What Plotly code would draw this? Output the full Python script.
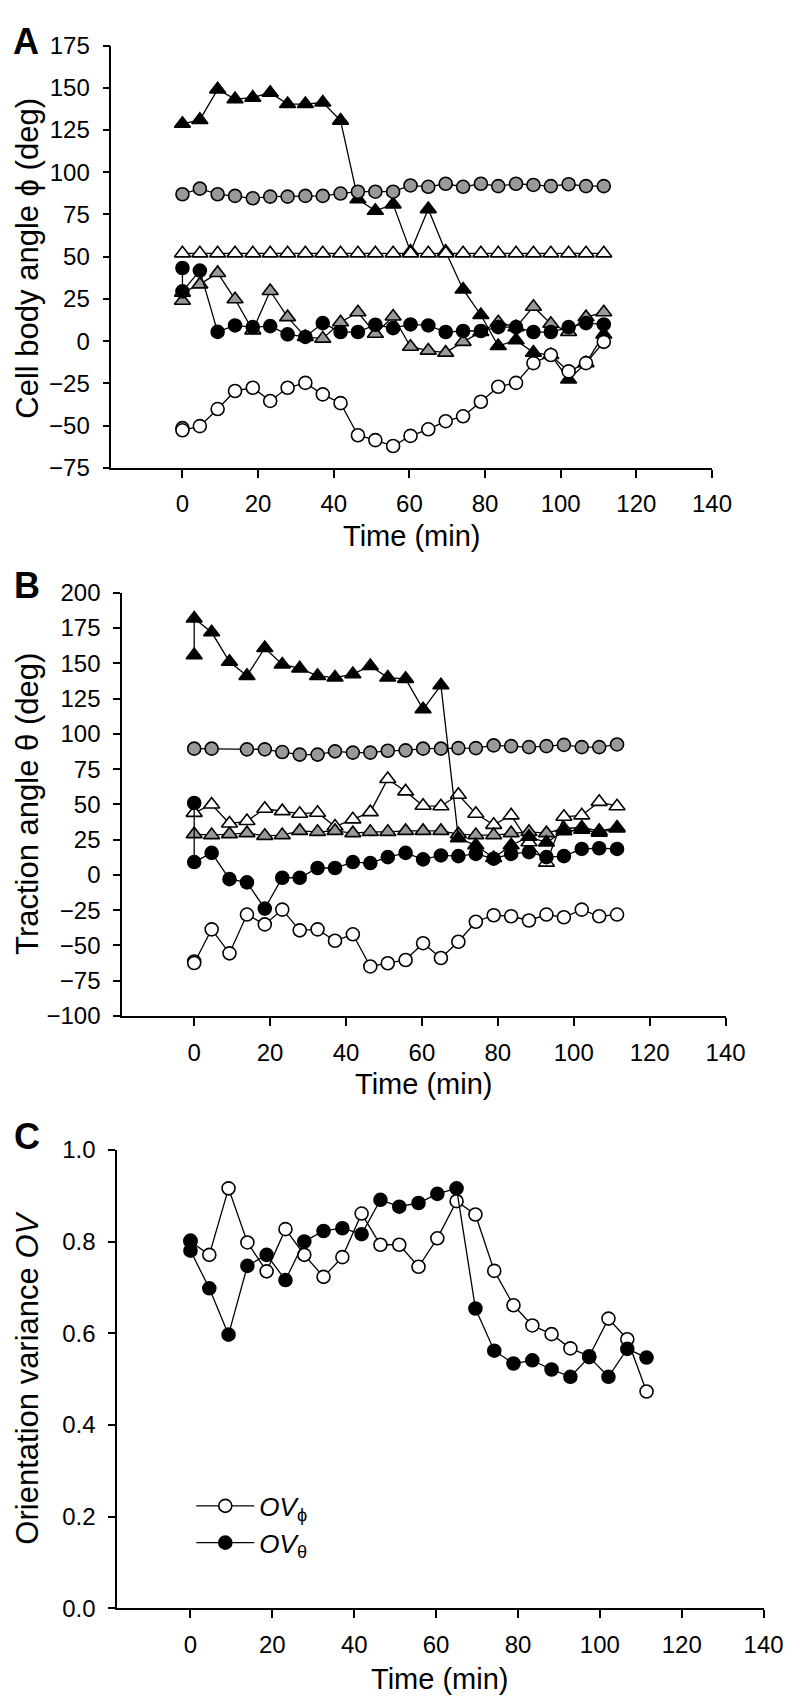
import plotly.graph_objects as go

# ---------------- data ----------------
TIME = [0, 4.6, 9.3, 13.9, 18.6, 23.2, 27.8, 32.5, 37.1, 41.8, 46.4, 51.0, 55.7,
        60.3, 65.0, 69.6, 74.2, 78.9, 83.5, 88.2, 92.8, 97.4, 102.1, 106.7, 111.4]
TIME_DUP = [0] + TIME            # series that have two readings at t = 0
TIME_GAP = [0, 4.6] + TIME[3:]   # series with the 9.3 min reading missing

# Panel A: cell body angle phi (deg)
a_black_tri = [128.7, 131, 149.1, 143.3, 144.2, 147.1, 140.4, 140.4, 141.3, 130.6, 84, 77.2, 81,
               53, 78.2, 53, 30.6, 15.5, -2.9, 0.6, -6.8, -8.2, -22.7, -13, 4]
a_white_tri = [52, 52, 52, 52, 52, 52, 52, 52, 52, 52, 52, 52, 52,
               52, 52, 52, 52, 52, 52, 52, 52, 52, 52, 52, 52]
a_grey_circ = [87, 90.3, 87, 86, 84.6, 85.6, 85.6, 86, 86, 87.4, 88.5, 88.5, 88.5,
               92.2, 91.4, 93.2, 91.4, 93.2, 91.8, 93.2, 92.5, 91.8, 92.9, 91.8, 91.8]
a_black_circ = [43.3, 29.5, 41.8, 5.5, 9.3, 8.3, 8.9, 4, 2.5, 10.7, 5.4, 5.4, 9.7, 7.7,
                9.9, 9.3, 5.4, 6, 6, 8.3, 8.3, 5.4, 5.4, 8.3, 10.7, 9.9]
a_grey_tri = [23.9, 28.7, 33.6, 40.4, 24.8, 6.4, 29.7, 14.2, 2.5, 1.5, 11.2, 17.1, 4.4, 14.6,
              -3.3, -5.6, -6.8, -0.4, 5.4, 11.2, 8.3, 20.4, 10.3, 5.4, 14.2, 17.1]
a_white_circ = [-51.5, -52.8, -50.3, -40.2, -29.5, -27.6, -35.4, -27.6, -24.7, -31.5, -36.7,
                -55.7, -58.6, -62.1, -56.1, -52.2, -47.4, -44.5, -35.9, -27, -24.7, -13,
                -8.2, -17.9, -13, -0.4]

# Panel B: traction angle theta (deg)
b_black_tri = [155.8, 181.8, 172, 151.1, 141.1, 160.9, 149.2, 146.4, 141.1, 139.9, 142.3, 148.1,
               139.9, 139, 117.4, 134.4, 26, 21, 12, 21, 27, 23, 31, 32, 30, 33]
b_grey_circ = [89.5, 89.5, 89, 89, 87.1, 85.3, 85.3, 87.6, 86.7, 86.7, 88, 88.3,
               89.5, 89.5, 89.9, 89.9, 91.8, 91.3, 90.6, 91.3, 92.2, 90.6, 90.6, 92.5]
b_white_tri = [44, 49.9, 36.4, 38.2, 46.9, 45.2, 43.4, 44.1, 34.3, 39.4, 44.5, 68, 59.2,
               49, 48.7, 56.8, 43.4, 35.5, 42.2, 23.1, 8.7, 41.2, 42.2, 51.8, 48.7]
b_grey_tri = [28.9, 28.2, 28.9, 29.6, 27.7, 28.2, 31.2, 30.5, 31.2, 29.6, 30.5, 30.5, 31.2,
              31.2, 31.2, 28.9, 28.2, 28.2, 29.6, 30.5, 29.6, 32.9, 33.6, 31.2, 33.6]
b_black_circ = [51, 9.1, 15.6, -3, -5.3, -23.9, -2, -2, 4.9, 4.9, 9.1, 8.4, 12.6, 15.6,
                11, 13.8, 13.3, 14.9, 11.5, 14.9, 16.1, 12.6, 13.3, 18.4, 18.9, 18.4]
b_white_circ = [-61.4, -62.5, -38.6, -55.6, -28.1, -35.1, -24.6, -39.3, -38.6, -46.7, -42.1,
                -64.9, -62.6, -60.3, -48.4, -58.9, -47.4, -33.2, -28.6, -29.3, -32.3, -28.1,
                -30, -24.6, -29.3, -28.1]

# Panel C: orientation variance
c_ov_phi = [0.80, 0.771, 0.916, 0.798, 0.735, 0.827, 0.771, 0.723, 0.766, 0.861, 0.793, 0.793,
            0.745, 0.807, 0.888, 0.859, 0.736, 0.661, 0.617, 0.598, 0.567, 0.55, 0.632, 0.587, 0.473]
c_ov_theta = [0.802, 0.780, 0.698, 0.597, 0.747, 0.771, 0.716, 0.800, 0.823, 0.829, 0.816, 0.891,
              0.876, 0.884, 0.904, 0.916, 0.654, 0.562, 0.534, 0.541, 0.521, 0.505, 0.548,
              0.505, 0.566, 0.547]

X_TICKS = [0, 20, 40, 60, 80, 100, 120, 140]
A_Y_TICKS = [-75, -50, -25, 0, 25, 50, 75, 100, 125, 150, 175]
B_Y_TICKS = [-100, -75, -50, -25, 0, 25, 50, 75, 100, 125, 150, 175, 200]
C_Y_TICKS = [0.0, 0.2, 0.4, 0.6, 0.8, 1.0]

# ---------------- styling helpers ----------------
W, H = 800, 1701
GREY = "#999999"
FONT = "Arial, Liberation Sans, sans-serif"


def px_x(p):
    return p / W


def px_y(p):
    return 1 - p / H


def series(x, y, symbol, fill, xa, ya, name=None, showlegend=False):
    size = 14 if symbol.startswith("triangle") else 13
    return go.Scatter(
        x=x, y=y, mode="lines+markers", xaxis=xa, yaxis=ya, name=name,
        showlegend=showlegend,
        line=dict(color="black", width=1.3),
        marker=dict(symbol=symbol, size=size, color=fill,
                    line=dict(color="black", width=1.6)),
        hoverinfo="skip",
    )


fig = go.Figure()

# Panel A
fig.add_trace(series(TIME, a_black_tri, "triangle-up", "black", "x", "y"))
fig.add_trace(series(TIME, a_white_tri, "triangle-up", "white", "x", "y"))
fig.add_trace(series(TIME, a_grey_circ, "circle", GREY, "x", "y"))
fig.add_trace(series(TIME_DUP, a_grey_tri, "triangle-up", GREY, "x", "y"))
fig.add_trace(series(TIME_DUP, a_black_circ, "circle", "black", "x", "y"))
fig.add_trace(series(TIME_DUP, a_white_circ, "circle", "white", "x", "y"))

# Panel B
fig.add_trace(series(TIME_GAP, b_grey_circ, "circle", GREY, "x2", "y2"))
fig.add_trace(series(TIME, b_white_tri, "triangle-up", "white", "x2", "y2"))
fig.add_trace(series(TIME, b_grey_tri, "triangle-up", GREY, "x2", "y2"))
fig.add_trace(series(TIME_DUP, b_black_tri, "triangle-up", "black", "x2", "y2"))
fig.add_trace(series(TIME_DUP, b_black_circ, "circle", "black", "x2", "y2"))
fig.add_trace(series(TIME_DUP, b_white_circ, "circle", "white", "x2", "y2"))

# Panel C
fig.add_trace(series(TIME, c_ov_phi, "circle", "white", "x3", "y3",
                     name="<i>OV</i><sub>ϕ</sub>", showlegend=True))
fig.add_trace(series(TIME_DUP, c_ov_theta, "circle", "black", "x3", "y3",
                     name="<i>OV</i><sub>θ</sub>", showlegend=True))

tickfont = dict(family=FONT, size=24, color="black")


def xaxis(dom, rng, anchor):
    return dict(domain=dom, range=rng, anchor=anchor, tickvals=X_TICKS, showline=True,
                linecolor="black", linewidth=1.5, ticks="outside", ticklen=8, tickwidth=1.5,
                tickcolor="black", showgrid=False, zeroline=False, tickfont=tickfont,
                ticklabelstandoff=6, fixedrange=True)


def yaxis(dom, rng, vals, anchor, fmt=None):
    d = dict(domain=dom, range=rng, anchor=anchor, tickvals=vals, showline=True,
             linecolor="black", linewidth=1.5, ticks="outside", ticklen=7, tickwidth=1.5,
             tickcolor="black", showgrid=False, zeroline=False, tickfont=tickfont,
             ticklabelstandoff=8, fixedrange=True)
    if fmt:
        d["tickformat"] = fmt
    return d


fig.update_layout(
    width=W, height=H,
    margin=dict(l=0, r=0, t=0, b=0),
    paper_bgcolor="white", plot_bgcolor="white",
    font=dict(family=FONT, color="black"),
    xaxis=xaxis([px_x(106), px_x(722)], [-18.8, 140], "y"),
    yaxis=yaxis([px_y(453), px_y(24)], [-75, 175], A_Y_TICKS, "x"),
    xaxis2=xaxis([px_x(117), px_x(736)], [-19, 140], "y2"),
    yaxis2=yaxis([px_y(1010), px_y(580)], [-100, 200], B_Y_TICKS, "x2"),
    xaxis3=xaxis([px_x(112), px_x(775)], [-17.9, 140], "y3"),
    yaxis3=yaxis([px_y(1612), px_y(1146)], [0, 1.0], C_Y_TICKS, "x3", ".1f"),
    legend=dict(x=px_x(188), y=px_y(1484), xanchor="left", yanchor="top",
                bgcolor="rgba(0,0,0,0)", font=dict(family=FONT, size=26, color="black"),
                itemwidth=58, tracegroupgap=4),
    showlegend=True,
)

annots = [
    ("A", 18, 20, 0, 36, True),
    ("B", 19, 573, 0, 36, True),
    ("C", 19, 1132, 0, 36, True),
    ("Time (min)", 414, 522, 0, 29, False),
    ("Time (min)", 426, 1079, 0, 29, False),
    ("Time (min)", 443, 1684, 0, 29, False),
    ("Cell body angle ϕ (deg)", 20, 240, -90, 31, False),
    ("Traction angle θ (deg)", 20, 795, -90, 31, False),
    ("Orientation variance <i>OV</i>", 20, 1378, -90, 31, False),
]
for text, x, y, ang, size, bold in annots:
    fig.add_annotation(
        text=f"<b>{text}</b>" if bold else text,
        x=px_x(x), y=px_y(y), xref="paper", yref="paper",
        xanchor="center", yanchor="middle", textangle=ang, showarrow=False,
        font=dict(family=FONT, size=size, color="black"),
    )

fig.write_html("out.html")
